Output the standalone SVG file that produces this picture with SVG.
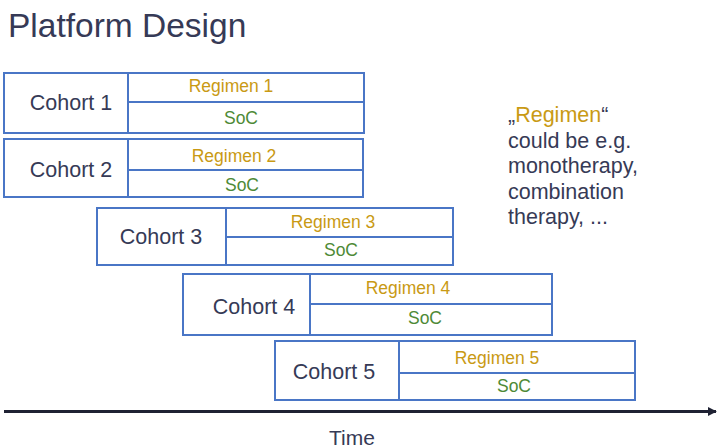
<svg xmlns="http://www.w3.org/2000/svg" width="718" height="446" viewBox="0 0 718 446">
<style>
.box{fill:#fff;stroke:#4a76c6;stroke-width:2}
.ln{stroke:#4a76c6;stroke-width:2}
.t{font-family:"Liberation Sans",Arial,sans-serif}
.coh{font-size:21.5px;fill:#363a56;text-anchor:middle;dominant-baseline:central}
.reg{font-size:17.5px;fill:#c99a14;text-anchor:middle;dominant-baseline:central}
.soc{font-size:17.5px;fill:#4e8a36;text-anchor:middle;dominant-baseline:central}
.note{font-size:21.5px;fill:#363a56}
</style>
<defs>
<marker id="ah" viewBox="0 0 10 10" refX="9" refY="5" markerWidth="3" markerHeight="3" orient="auto" markerUnits="strokeWidth">
<path d="M0,0 L10,5 L0,10 z" fill="#1f2233"/>
</marker>
</defs>
<text class="t" x="8" y="37" font-size="33.5" fill="#363a56">Platform Design</text>
<g id="cohort1">
<rect class="box" x="4" y="73" width="360" height="60"/>
<line class="ln" x1="128" y1="73" x2="128" y2="133"/>
<line class="ln" x1="128" y1="102" x2="364" y2="102"/>
<text class="t coh" x="71" y="103">Cohort 1</text>
<text class="t reg" x="231" y="86">Regimen 1</text>
<text class="t soc" x="241" y="118">SoC</text>
</g>
<g id="cohort2">
<rect class="box" x="4" y="139" width="359" height="58"/>
<line class="ln" x1="128" y1="139" x2="128" y2="197"/>
<line class="ln" x1="128" y1="170" x2="363" y2="170"/>
<text class="t coh" x="71" y="170">Cohort 2</text>
<text class="t reg" x="234" y="156">Regimen 2</text>
<text class="t soc" x="242" y="185">SoC</text>
</g>
<g id="cohort3">
<rect class="box" x="97" y="208" width="356" height="57"/>
<line class="ln" x1="226" y1="208" x2="226" y2="265"/>
<line class="ln" x1="226" y1="237" x2="453" y2="237"/>
<text class="t coh" x="161" y="237">Cohort 3</text>
<text class="t reg" x="333" y="222">Regimen 3</text>
<text class="t soc" x="341" y="250">SoC</text>
</g>
<g id="cohort4">
<rect class="box" x="183" y="274" width="369" height="61"/>
<line class="ln" x1="310" y1="274" x2="310" y2="335"/>
<line class="ln" x1="310" y1="304" x2="552" y2="304"/>
<text class="t coh" x="254" y="307">Cohort 4</text>
<text class="t reg" x="408" y="288">Regimen 4</text>
<text class="t soc" x="425" y="318">SoC</text>
</g>
<g id="cohort5">
<rect class="box" x="275" y="341" width="360" height="59"/>
<line class="ln" x1="399" y1="341" x2="399" y2="400"/>
<line class="ln" x1="399" y1="373" x2="635" y2="373"/>
<text class="t coh" x="334" y="372">Cohort 5</text>
<text class="t reg" x="497" y="358">Regimen 5</text>
<text class="t soc" x="514" y="386">SoC</text>
</g>
<g id="connectors">
<line x1="4" y1="411.5" x2="716" y2="411.5" stroke="#1f2233" stroke-width="3" marker-end="url(#ah)"/>
</g>
<text class="t" x="352" y="445" font-size="21" fill="#363a56" text-anchor="middle">Time</text>
<g id="note" class="t note">
<text x="508" y="122"><tspan>„</tspan><tspan fill="#c99a14">Regimen</tspan><tspan>“</tspan></text>
<text x="508" y="148">could be e.g.</text>
<text x="508" y="173">monotherapy,</text>
<text x="508" y="199">combination</text>
<text x="508" y="224">therapy, ...</text>
</g>
</svg>
